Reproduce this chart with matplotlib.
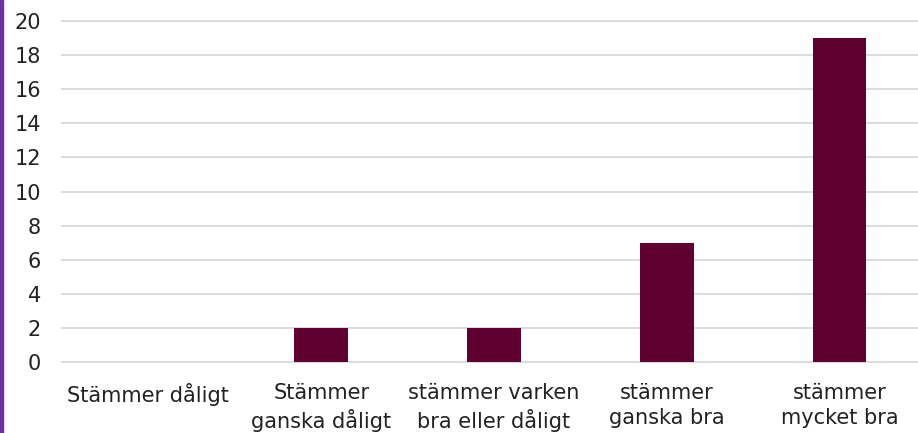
import matplotlib
matplotlib.use('Agg')
from matplotlib import pyplot as plt
from matplotlib.patches import Rectangle

categories = ['Stämmer dåligt', 'Stämmer\nganska dåligt', 'stämmer varken\nbra eller dåligt',
              'stämmer\nganska bra', 'stämmer\nmycket bra']
values = [0, 2, 2, 7, 19]
yticks = [0, 2, 4, 6, 8, 10, 12, 14, 16, 18, 20]

plt.rcParams['font.family'] = ['DejaVu Sans']

fig = plt.figure(figsize=(9.18, 4.33), dpi=100)
ax = fig.add_axes([62/918, 71/433, 864/918, 341/433])

x = list(range(len(categories)))
ax.bar(x, values, width=0.31, color='#600030', zorder=3)
ax.set_xlim(-0.5, len(categories) - 0.5)
ax.set_ylim(0, 20)
ax.set_yticks(yticks)
ax.set_xticks(x)
ax.set_xticklabels(categories, fontsize=15, color='#222222', linespacing=1.3)
ax.tick_params(axis='y', length=0, pad=15, labelsize=15, labelcolor='#222222')
ax.tick_params(axis='x', length=0, pad=15)
ax.grid(axis='y', color='#d9d9d9', linewidth=1.3, zorder=0)
for gl in ax.get_ygridlines():
    gl.set_clip_on(False)
for s in ax.spines.values():
    s.set_visible(False)

# purple border strip on the left edge
fig.add_artist(Rectangle((0, 0), 3/918, 1, transform=fig.transFigure, color='#7030a0'))

fig.savefig('out.png', dpi=100)
